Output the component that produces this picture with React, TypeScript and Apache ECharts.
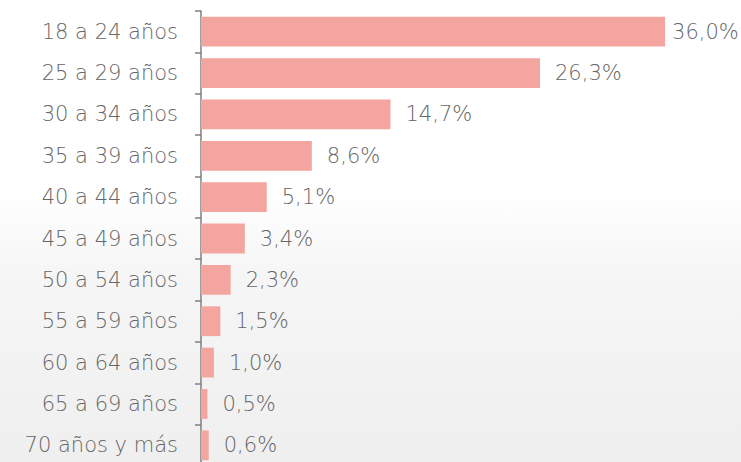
import React, { useEffect, useRef } from "react";
import * as echarts from "echarts";

const categories = [
  "18 a 24 años",
  "25 a 29 años",
  "30 a 34 años",
  "35 a 39 años",
  "40 a 44 años",
  "45 a 49 años",
  "50 a 54 años",
  "55 a 59 años",
  "60 a 64 años",
  "65 a 69 años",
  "70 años y más",
];
const values = [36.0, 26.3, 14.7, 8.6, 5.1, 3.4, 2.3, 1.5, 1.0, 0.5, 0.6];

export default function App() {
  const ref = useRef<HTMLDivElement>(null);
  useEffect(() => {
    if (!ref.current) return;
    const chart = echarts.init(ref.current, null, { renderer: "svg" });
    const font = "'DejaVu Sans', sans-serif";
    chart.setOption({
      animation: false,
      backgroundColor: "transparent",
      grid: { left: 201, right: 24.4, top: 11, height: 455, containLabel: false },
      xAxis: {
        type: "value",
        min: 0,
        max: 40,
        show: false,
      },
      yAxis: {
        type: "category",
        data: categories,
        inverse: true,
        axisLine: { show: true, lineStyle: { color: "#7f7f7f", width: 1.5 } },
        axisTick: { show: true, length: 6, lineStyle: { color: "#7f7f7f", width: 1.5 } },
        axisLabel: {
          color: "#666666",
          fontSize: 21,
          fontFamily: font,
          fontWeight: 300,
          margin: 23,
        },
        splitLine: { show: false },
      },
      series: [
        {
          type: "bar",
          data: values.map((v, i) =>
            i === 0 ? { value: v, label: { distance: 7 } } : { value: v }
          ),
          barCategoryGap: "28%",
          itemStyle: { color: "#F5A59F" },
          label: {
            show: true,
            position: "right",
            distance: 15,
            color: "#666666",
            fontSize: 21,
            fontFamily: font,
            fontWeight: 300,
            formatter: (p: any) => p.value.toFixed(1).replace(".", ",") + "%",
          },
        },
      ],
    });
    return () => chart.dispose();
  }, []);
  return (
    <div
      style={{
        position: "absolute",
        left: 0,
        top: 0,
        width: 741,
        height: 470,
        overflow: "hidden",
        background:
          "linear-gradient(to bottom, #ffffff 0px, #ffffff 190px, #f6f6f6 270px, #efefef 462px)",
      }}
    >
      <div ref={ref} style={{ width: 741, height: 470 }} />
    </div>
  );
}
